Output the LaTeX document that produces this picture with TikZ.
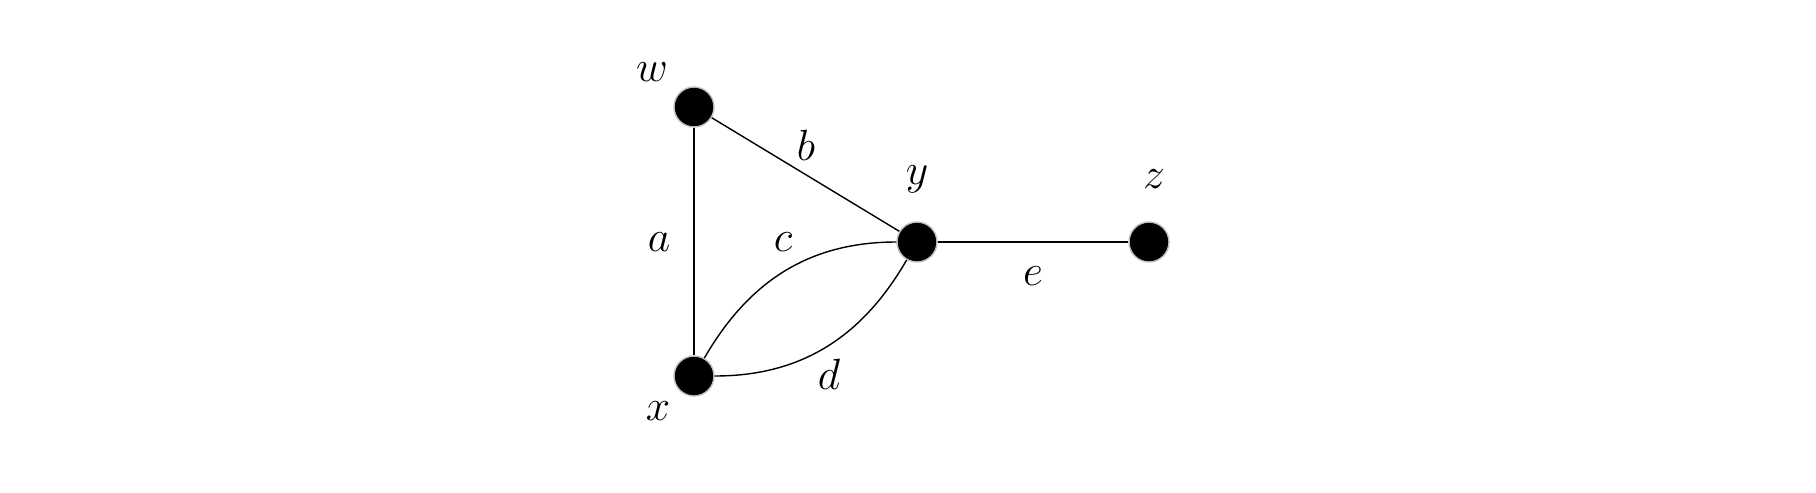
\documentclass[tikz,border=0pt]{standalone}
\usepackage{tikz}
\usetikzlibrary{positioning}
\begin{document}
\begin{tikzpicture}[line width=0.8pt]

\tikzset{vertex/.style={shape=circle,fill=black,draw=black!25,inner sep=0pt,minimum size=8mm},
lbl/.style={font=\fontsize{26}{30}\selectfont}}

\useasboundingbox (0,0) rectangle (36.32,-9.84);

% vertices
\node[vertex] (w) at (13.88,-2.14) {};
\node[vertex] (x) at (13.88,-7.52) {};
\node[vertex] (y) at (18.34,-4.84) {};
\node[vertex] (z) at (22.98,-4.84) {};

% vertex labels
\node[lbl] (lw) at (13.04,-1.44) {$w$};
\node[lbl] (lx) at (13.16,-8.22) {$x$};
\node[lbl] (ly) at (18.34,-3.58) {$y$};
\node[lbl] (lz) at (23.08,-3.58) {$z$};

% edges
\draw (w) -- (x); \draw (w) -- (y); \draw (y) -- (z);
\draw (x) to[out=60,in=180] (y);
\draw (x) to[out=0,in=240] (y);

% edge labels
\node[lbl] (ea) at (13.18,-4.84) {$a$};
\node[lbl] (eb) at (16.12,-2.90) {$b$};
\node[lbl] (ec) at (15.66,-4.84) {$c$};
\node[lbl] (ed) at (16.58,-7.48) {$d$};
\node[lbl] (ee) at (20.66,-5.52) {$e$};

\end{tikzpicture}
\end{document}
